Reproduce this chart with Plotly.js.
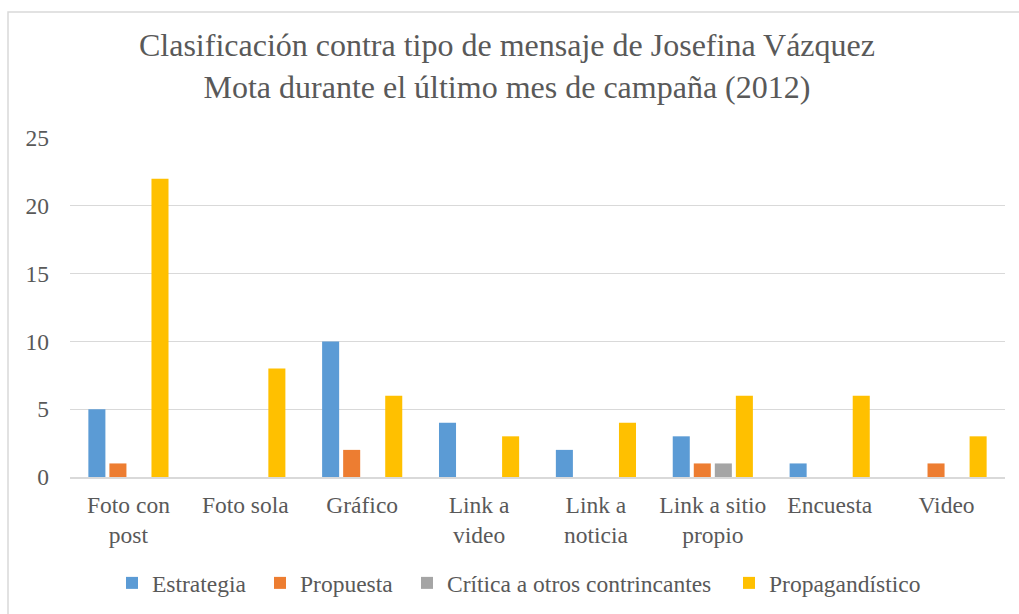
<!DOCTYPE html>
<html>
<head>
<meta charset="utf-8">
<script src="https://cdn.plot.ly/plotly-3.0.1.min.js"></script>
<style>
html, body { margin: 0; padding: 0; background: #fff; }
#chart { width: 1019px; height: 614px; }
</style>
</head>
<body>
<div id="chart"></div>
<script>
const categories = ["Foto con<br>post", "Foto sola", "Gráfico", "Link a<br>video", "Link a<br>noticia", "Link a sitio<br>propio", "Encuesta", "Video"];
const seriesNames = ["Estrategia", "Propuesta", "Crítica a otros contrincantes", "Propagandístico"];
const estrategia = [5, 0, 10, 4, 2, 3, 1, 0];
const propuesta = [1, 0, 2, 0, 0, 1, 0, 1];
const critica = [0, 0, 0, 0, 0, 1, 0, 0];
const propagandistico = [22, 8, 6, 3, 4, 6, 6, 3];
const colors = ["#5B9BD5", "#ED7D31", "#A5A5A5", "#FFC000"];
const yTicks = [0, 5, 10, 15, 20, 25];
const titleText = "Clasificación contra tipo de mensaje de Josefina Vázquez<br>Mota durante el último mes de campaña (2012)";

const serif = "'Liberation Serif', 'Times New Roman', serif";
const legendIds = ["legend", "legend2", "legend3", "legend4"];
const legendX = [0.0449, 0.2032, 0.3604, 0.7048];
const values = [estrategia, propuesta, critica, propagandistico];
const traces = values.map((v, i) => ({
  type: "bar",
  name: seriesNames[i],
  x: categories,
  y: v,
  legend: legendIds[i],
  marker: { color: colors[i], line: { width: 0 } },
  hoverinfo: "x+y+name"
}));

const layout = {
  width: 1019,
  height: 614,
  margin: { l: 70, r: 14, t: 138, b: 137, autoexpand: false },
  paper_bgcolor: "#ffffff",
  plot_bgcolor: "#ffffff",
  font: { family: serif, color: "#595959", size: 23.5 },
  title: {
    text: titleText,
    font: { family: serif, size: 32, color: "#595959" },
    x: 0.4975, xref: "container", xanchor: "center",
    y: 0.908, yref: "container", yanchor: "top"
  },
  barmode: "group",
  bargap: 0.28,
  bargroupgap: 0.19,
  xaxis: {
    type: "category",
    showgrid: false,
    showline: true,
    linecolor: "#D9D9D9",
    linewidth: 1.5,
    ticks: "",
    ticklabelstandoff: 6,
    tickfont: { family: serif, size: 23.5, color: "#595959" },
    zeroline: false
  },
  yaxis: {
    range: [0, 25],
    tickvals: yTicks,
    showgrid: true,
    gridcolor: "#D9D9D9",
    gridwidth: 1.2,
    zeroline: false,
    showline: false,
    ticks: "",
    ticklabelstandoff: 20,
    tickfont: { family: serif, size: 23.5, color: "#595959" }
  },
  showlegend: true,
  shapes: [
    {
      type: "path", xref: "paper", yref: "paper",
      path: "M -0.0663 -0.4100 L -0.0663 1.3717 L 1.0200 1.3717",
      line: { color: "#D9D9D9", width: 1.5 }
    }
  ]
};

legendIds.forEach((id, i) => {
  layout[id] = {
    orientation: "h",
    x: legendX[i], xanchor: "left",
    y: -0.313, yanchor: "middle",
    font: { family: serif, size: 23.5, color: "#595959" },
    bgcolor: "rgba(0,0,0,0)",
    itemclick: false
  };
});

Plotly.newPlot("chart", traces, layout, { displayModeBar: false, staticPlot: true });
</script>
</body>
</html>
